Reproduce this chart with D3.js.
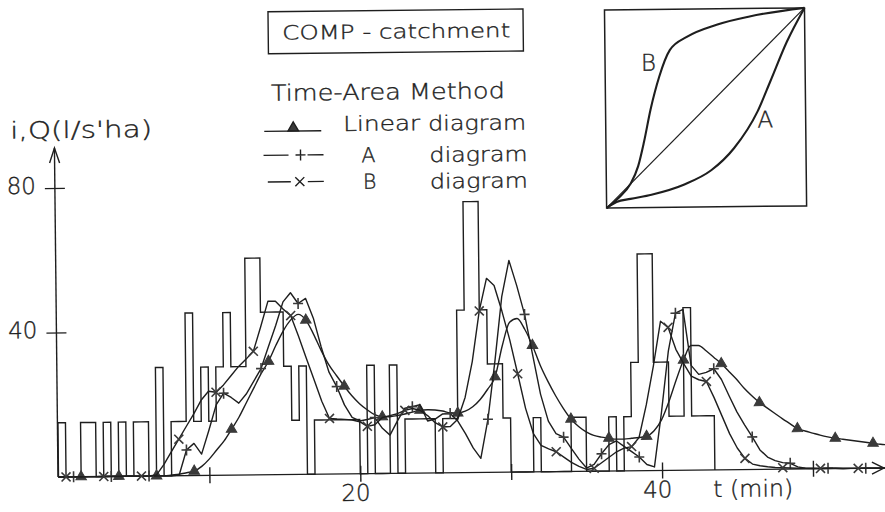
<!DOCTYPE html>
<html>
<head>
<meta charset="utf-8">
<script src="https://cdn.jsdelivr.net/npm/d3@7"></script>
<style>
  html, body { margin: 0; padding: 0; background: #fff; }
  svg text { font-family: "DejaVu Sans", "Noto Sans", sans-serif; font-weight: 200;
             fill: #1e1e1e; stroke: #1e1e1e; stroke-width: 0.35; }
</style>
</head>
<body>
<svg id="chart" width="885" height="512"></svg>
<script>
// ---- rainfall intensity (l/s·ha) in 0.5-min blocks, starting at t = 0
const rainStep = 0.5;
const rain = [
  15, 0, 0, 15, 15, 0, 15, 0, 15, 0,        // 0 - 4.5
  15, 15, 0, 30, 0, 15, 15, 45, 15, 30,     // 5 - 9.5
  15, 30, 45, 30, 30, 60, 60, 45, 45, 45,   // 10 - 14.5
  30, 15, 30, 0, 15, 15, 15, 15, 15, 15,    // 15 - 19.5
  0, 30, 0, 0, 30, 0, 15, 15, 15, 15,       // 20 - 24.5
  0, 15, 15, 45, 75, 75, 45, 30, 30, 15,    // 25 - 29.5
  0, 0, 0, 15, 0, 0, 0, 0, 15, 15,          // 30 - 34.5
  0, 0, 0, 15, 0, 15, 30, 60, 60, 30,       // 35 - 39.5
  30, 15, 15, 45, 15, 15, 15                // 40 - 43
];

// ---- runoff by the time-area method, one value every 0.5 min from t = 0 to 55
const qStep = 0.5;
const qLinear = [
  0, 0, 0, 0, 0, 0, 0, 0, 0, 0,                              // 0 - 4.5
  0, 0, 0, 0, 0, 0.2, 0.4, 0.8, 1.2, 2.5,                    // 5 - 9.5
  4.5, 7, 9.5, 12.7, 16, 20, 24, 28, 31.4, 35.8,             // 10 - 14.5
  39.8, 42.8, 44.3, 42.7, 38.8, 34.2, 30.2, 27.2, 24.3, 21.6,// 15 - 19.5
  19.4, 17.7, 16.3, 15.7, 15.7, 16, 16.4, 16.9, 17.4, 17.5,  // 20 - 24.5
  17.4, 17.1, 16.6, 16.5, 17, 18.2, 20.2, 23, 26.4, 35,      // 25 - 29.5
  41.5, 42.5, 39.5, 35, 29.5, 25, 21, 17.5, 14.5, 12.4,      // 30 - 34.5
  10.9, 9.9, 9.4, 9.1, 8.8, 8.8, 9, 9.2, 9.5, 11,            // 35 - 39.5
  14, 19, 25, 30.5, 34.5, 34.5, 33, 31.2, 29.4, 27.2,        // 40 - 44.5
  25, 22.5, 20.4, 18.5, 17, 15.5, 14, 12.6, 11.2, 10.5,      // 45 - 49.5
  9.9, 9.3, 8.8, 8.4, 8.1, 7.8, 7.5, 7.2, 6.9, 6.6,          // 50 - 54.5
  6.4                                                        // 55
];
const qA = [
  0, 0, 0, 0, 0, 0, 0, 0, 0, 0,
  0, 0, 0, 0, 0, 0, 0.2, 7.1, 8.9, 5.9,
  12.5, 19.5, 22.7, 21.5, 19.9, 22.4, 25.9, 29.4, 35.4, 41.3,
  47.8, 50.3, 47.3, 48.7, 43.2, 35.2, 28.2, 24.2, 19.1, 15.6,
  14.6, 15, 15.5, 12.5, 10.6, 14.5, 18, 18.4, 18.9, 14.4,
  14.9, 16.3, 16.4, 14.3, 10.8, 6.8, 3.9, 14.7, 30.7, 48.6,
  58.6, 51.6, 43.6, 32.5, 21.5, 14, 10.5, 9.5, 6.4, 3.4,
  0.9, 1.9, 4.8, 7.3, 8.3, 6.8, 5.3, 3.8, 1.7, 1,
  16, 33, 43.5, 44.5, 29, 26.5, 27, 28, 25, 20.4,
  16, 12.4, 9, 5.4, 3.4, 2.4, 1.8, 1.6, 0.6, 0.2,
  0.1, 0.1, 0.1, 0.1, 0, 0, 0, 0, 0, 0,
  0
];
const qB = [
  0, 0, 0, 0, 0, 0, 0, 0, 0, 0,
  0, 0, 0, 0.3, 3.2, 6.7, 10.1, 13.6, 17, 20.8,
  23.3, 23, 25, 27.5, 30, 32, 34.2, 40.9, 48, 48,
  45.8, 44, 38.3, 32.2, 26.2, 20.2, 15.4, 15.2, 15.1, 14.9,
  14.4, 13.1, 13.5, 15.5, 16, 16.5, 17.4, 17.9, 17.4, 15.9,
  13.9, 12.7, 12.8, 14.8, 20.8, 30.7, 44.7, 53.7, 51.7, 44.6,
  36.6, 27.2, 17.6, 10.6, 7.3, 6.3, 5.5, 4, 2.5, 1.4,
  0.5, 0.8, 2.3, 3.8, 5.3, 6.3, 6.7, 9.2, 18.2, 29,
  41.3, 39.6, 33.5, 29.6, 26, 25, 24.5, 20, 15, 10,
  6, 3.1, 1.5, 1, 0.7, 0.5, 0.4, 0.3, 0.2, 0.2,
  0.2, 0.1, 0.1, 0.1, 0, 0, 0, 0, 0, 0,
  0
];

// ---- axis ticks
const xTicks = [10, 20, 30, 40, 50];
const xTickLabels = [20, 40];
const yTicks = [40, 80];

// ---- time-area diagrams of the inset (time fraction, area fraction)
const areaLinear = [[0, 0], [1, 1]];
const areaA = [[0, 0], [0.05, 0.03], [0.12, 0.045], [0.225, 0.065], [0.39, 0.115], [0.525, 0.185],
               [0.64, 0.295], [0.76, 0.48], [0.825, 0.63], [0.91, 0.83], [1, 1]];
const areaB = [[0, 0], [0.06, 0.05], [0.12, 0.12], [0.16, 0.21], [0.19, 0.33], [0.225, 0.495],
               [0.27, 0.66], [0.325, 0.795], [0.41, 0.86], [0.56, 0.92], [0.725, 0.96], [1, 1]];

// ------------------------------------------------------------------------
const ink = "#1e1e1e";
const svg = d3.select("#chart");
// the whole sheet sits slightly turned
const sheet = svg.append("g").attr("transform", "rotate(-0.62,58,477)");

const x = d3.scaleLinear().domain([0, 50]).range([58.5, 813]);
const y = d3.scaleLinear().domain([0, 80]).range([477, 188]);

function label(parent, px, py, str, size, len, anchor) {
  const t = parent.append("text")
    .attr("x", px).attr("y", py)
    .attr("font-size", size)
    .attr("text-anchor", anchor || "start")
    .text(str);
  if (len) t.attr("textLength", len).attr("lengthAdjust", "spacingAndGlyphs");
  return t;
}

// ---- axes
const axisG = sheet.append("g").attr("stroke", ink).attr("stroke-width", 1.4).attr("fill", "none");
axisG.append("line").attr("x1", 58).attr("y1", y(0)).attr("x2", 884).attr("y2", y(0));
axisG.append("path").attr("d", `M872,${y(0) - 6}L884,${y(0)}L872,${y(0) + 6}`);
axisG.append("line").attr("x1", 58).attr("y1", y(0)).attr("x2", 58).attr("y2", 148);
axisG.append("path").attr("d", `M53,163L58,148L63,163`);

const xAxis = d3.axisBottom(x).tickValues(xTicks).tickSize(8)
  .tickFormat(d => xTickLabels.includes(d) ? d : "");
const xg = sheet.append("g").attr("transform", `translate(0,${y(0)})`).call(xAxis);
xg.select(".domain").remove();
xg.selectAll(".tick line").attr("y1", -8).attr("y2", 8).attr("stroke", ink).attr("stroke-width", 1.4);
xg.selectAll(".tick text").attr("font-size", 23).attr("fill", ink).attr("y", 27).attr("dy", 0)
  .attr("x", -5).attr("font-family", null);

const yAxis = d3.axisLeft(y).tickValues(yTicks).tickSize(10);
const yg = sheet.append("g").attr("transform", "translate(58,0)").call(yAxis);
yg.select(".domain").remove();
yg.selectAll(".tick line").attr("x1", -10).attr("x2", 10).attr("stroke", ink).attr("stroke-width", 1.4);
yg.selectAll(".tick text").attr("font-size", 23).attr("fill", ink).attr("x", -19).attr("dy", 5)
  .attr("font-family", null);

label(sheet, 14, 138, "i,Q(l/s'ha)", 23, 142);
label(sheet, 713, 504, "t (min)", 23, 80);

// ---- hyetograph (step outline)
const rainPts = [[0, 0]].concat(rain.map((v, i) => [i * rainStep, v]), [[rain.length * rainStep, 0]]);
sheet.append("path")
  .datum(rainPts)
  .attr("fill", "none").attr("stroke", ink).attr("stroke-width", 1.4)
  .attr("d", d3.line().x(d => x(d[0])).y(d => y(d[1])).curve(d3.curveStepAfter));

// ---- hydrographs
const series = [
  { key: "lin", values: qLinear, first: 3, marker: "tri", curve: d3.curveMonotoneX },
  { key: "A", values: qA, first: 2, marker: "plus", curve: d3.curveLinear },
  { key: "B", values: qB, first: 1, marker: "cross", curve: d3.curveLinear }
];
const markerEvery = 5;
const triPath = d3.symbol(d3.symbolTriangle, 48)();
const markPath = {
  tri: triPath,
  plus: "M-5,0H5M0,-5.5V5.5",
  cross: "M-4.5,-4.5L4.5,4.5M-4.5,4.5L4.5,-4.5"
};

series.forEach(s => {
  const pts = s.values.map((v, i) => [i * qStep, v]);
  sheet.append("path").datum(pts)
    .attr("fill", "none").attr("stroke", ink).attr("stroke-width", 1.4)
    .attr("stroke-linejoin", "round")
    .attr("d", d3.line().x(d => x(d[0])).y(d => y(d[1])).curve(s.curve));
  const marks = pts.filter((d, i) => i >= s.first && (i - s.first) % markerEvery === 0);
  sheet.append("g").selectAll("path").data(marks).join("path")
    .attr("transform", d => `translate(${x(d[0])},${y(d[1])})`)
    .attr("d", markPath[s.marker])
    .attr("fill", s.marker === "tri" ? "#3a3a3a" : "none")
    .attr("stroke", "#3a3a3a").attr("stroke-width", s.marker === "tri" ? 1 : 1.6);
});

// ---- title box
sheet.append("rect").attr("x", 273).attr("y", 14).attr("width", 255).attr("height", 42)
  .attr("fill", "none").attr("stroke", ink).attr("stroke-width", 1.4);
label(sheet, 287, 42, "COMP - catchment", 19.5, 228);

// ---- legend
label(sheet, 275, 103, "Time-Area Method", 22, 234);
const leg = sheet.append("g").attr("stroke", ink).attr("stroke-width", 1.4).attr("fill", "none");
leg.append("line").attr("x1", 268).attr("x2", 325).attr("y1", 133.6).attr("y2", 133.6);
leg.append("path").attr("transform", "translate(297,130.5)").attr("d", triPath).attr("fill", "#3a3a3a");
leg.append("line").attr("x1", 267).attr("x2", 292).attr("y1", 157.6).attr("y2", 157.6);
leg.append("path").attr("transform", "translate(304,157.6)").attr("d", markPath.plus);
leg.append("line").attr("x1", 311).attr("x2", 327).attr("y1", 157.6).attr("y2", 157.6);
leg.append("line").attr("x1", 271).attr("x2", 294).attr("y1", 184.3).attr("y2", 184.3);
leg.append("path").attr("transform", "translate(303,184.3)").attr("d", markPath.cross);
leg.append("line").attr("x1", 311).attr("x2", 327).attr("y1", 184.3).attr("y2", 184.3);

label(sheet, 347, 134, "Linear", 20.5, 77);
label(sheet, 432, 134.5, "diagram", 20.5, 98);
label(sheet, 365, 165.5, "A", 20.5);
label(sheet, 433, 166, "diagram", 20.5, 98);
label(sheet, 366, 192, "B", 20.5);
label(sheet, 433, 192.5, "diagram", 20.5, 98);

// ---- inset: time-area diagrams
const ix = d3.scaleLinear().domain([0, 1]).range([609.5, 809.5]);
const iy = d3.scaleLinear().domain([0, 1]).range([214, 16]);
const inset = sheet.append("g").attr("fill", "none").attr("stroke", ink);
inset.append("rect").attr("x", ix(0)).attr("y", iy(1)).attr("width", ix(1) - ix(0)).attr("height", iy(0) - iy(1))
  .attr("stroke-width", 1.5);
const iline = d3.line().x(d => ix(d[0])).y(d => iy(d[1]));
inset.append("path").datum(areaLinear).attr("stroke-width", 1.2).attr("d", iline.curve(d3.curveLinear));
inset.append("path").datum(areaA).attr("stroke-width", 2.1).attr("d", iline.curve(d3.curveMonotoneX));
inset.append("path").datum(areaB).attr("stroke-width", 2.1).attr("d", iline.curve(d3.curveMonotoneX));
label(sheet, 653, 77, "B", 23, null, "middle");
label(sheet, 769, 135, "A", 23, null, "middle");
</script>
</body>
</html>
